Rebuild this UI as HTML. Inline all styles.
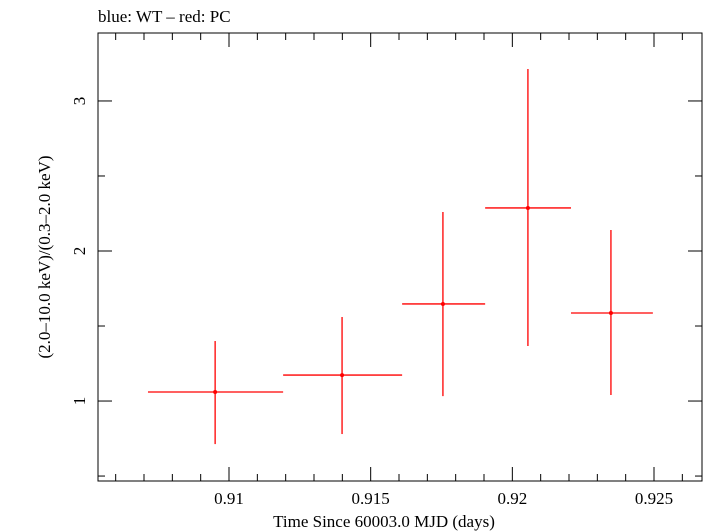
<!DOCTYPE html>
<html><head><meta charset="utf-8"><style>body{margin:0;background:#fff}svg{display:block}text{font-family:"Liberation Serif",serif;fill:#000}</style></head>
<body>
<svg id="chart" width="705" height="532">
<text x="98" y="22" font-size="17">blue: WT – red: PC</text>
<rect x="98" y="33" width="604" height="448" fill="none" stroke="#000" stroke-width="1"/>
<g id="axes"></g>
<g id="marks"></g>
<text x="384" y="527" font-size="17" text-anchor="middle">Time Since 60003.0 MJD (days)</text>
<text transform="translate(50,257) rotate(-90)" font-size="17" text-anchor="middle">(2.0–10.0 keV)/(0.3–2.0 keV)</text>
</svg>
<script>
const times=[0.90951,0.91399,0.91755,0.92055,0.92348];
const timeLo=[0.90714,0.91191,0.91611,0.91904,0.92207];
const timeHi=[0.91191,0.91611,0.91904,0.92207,0.92496];
const ratios=[1.06,1.173,1.647,2.287,1.587];
const ratioLo=[0.713,0.78,1.033,1.367,1.04];
const ratioHi=[1.40,1.56,2.26,3.213,2.14];
const xTicks=[0.91,0.915,0.92,0.925];
const xTickLabels=["0.91","0.915","0.92","0.925"];
const yTicks=[1,2,3];
const yTickLabels=["1","2","3"];
const X0=0.905376,X1=0.926694,Y0=0.467,Y1=3.453;
const L=98,R=702,T=33,B=481;
const sx=v=>L+(v-X0)/(X1-X0)*(R-L);
const sy=v=>B-(v-Y0)/(Y1-Y0)*(B-T);
const NS="http://www.w3.org/2000/svg";
function mk(tag,attrs,parent){const e=document.createElementNS(NS,tag);for(const k in attrs)e.setAttribute(k,attrs[k]);parent.appendChild(e);return e;}
const axes=document.getElementById('axes'),marks=document.getElementById('marks');
for(let k=906;k<=926;k++){const vv=k/1000;const major=(k%5===0);const len=major?14:7;const x=sx(vv);
const t1=mk('line',{x1:x,x2:x,y1:B,y2:B-len,stroke:'#000'},axes);


const t2=mk('line',{x1:x,x2:x,y1:T,y2:T+len,stroke:'#000'},axes);

}
xTicks.forEach((v,i)=>{const t=mk('text',{x:sx(v),y:504,'font-size':17,'text-anchor':'middle'},axes);t.textContent=xTickLabels[i];

});
for(let k=1;k<=6;k++){const vv=k/2;if(vv<Y0||vv>Y1)continue;const major=(k%2===0);const len=major?14:7;const y=sy(vv);
const t1=mk('line',{x1:L,x2:L+len,y1:y,y2:y,stroke:'#000'},axes);


const t2=mk('line',{x1:R,x2:R-len,y1:y,y2:y,stroke:'#000'},axes);

}
yTicks.forEach((v,i)=>{const t=mk('text',{transform:`translate(85,${sy(v)}) rotate(-90)`,'font-size':17,'text-anchor':'middle'},axes);t.textContent=yTickLabels[i];

});
times.forEach((t,i)=>{const g=mk('g',{},marks);


mk('line',{x1:sx(timeLo[i]),x2:sx(timeHi[i]),y1:sy(ratios[i]),y2:sy(ratios[i]),stroke:'#f00','stroke-width':1.3},g);
mk('line',{x1:sx(t),x2:sx(t),y1:sy(ratioLo[i]),y2:sy(ratioHi[i]),stroke:'#f00','stroke-width':1.3},g);
mk('circle',{cx:sx(t),cy:sy(ratios[i]),r:2,fill:'#f00'},g);});
</script>
</body></html>
